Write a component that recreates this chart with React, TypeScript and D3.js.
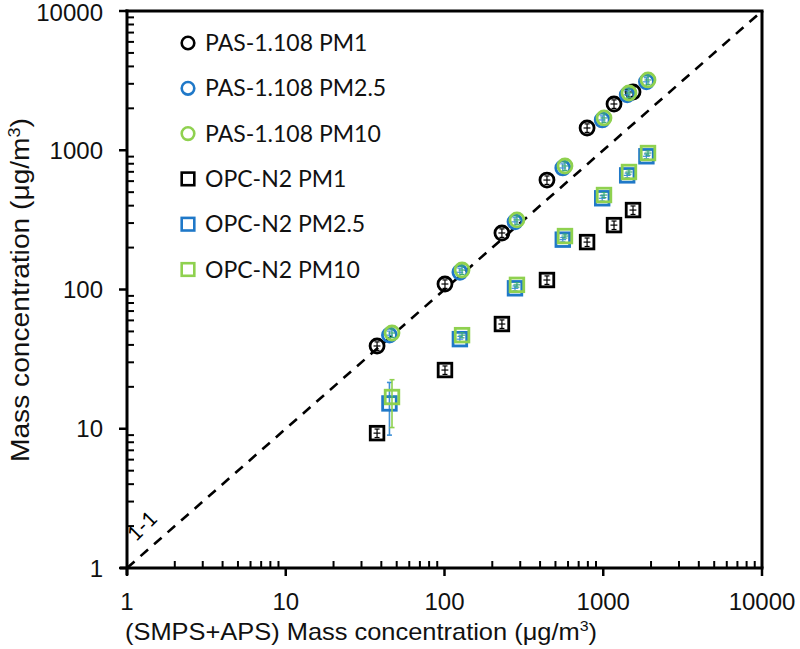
import React from "react";
import * as d3 from "d3";

// ---- Data ----
const pm1Ref = [37.6, 100.7, 230, 442, 791, 1169, 1540];
const pmRef = [46.7, 129, 286, 574, 1011, 1452, 1914];
const pmRefBlue = [45, 125, 278, 556, 985, 1415, 1870];

const pasPM1 = [39.3, 109.5, 254.6, 611, 1445, 2149, 2620];
const pasPM25 = [47, 133, 306, 746, 1650, 2500, 3100];
const pasPM10 = [48.7, 138, 316, 771, 1706, 2577, 3197];

const opcPM1 = [9.3, 26.4, 56.5, 117, 219, 290, 372];
const opcPM25 = [15.2, 44, 102, 228, 452, 660, 905];
const opcPM10 = [16.9, 47, 108, 242, 477, 698, 955];

// absolute y error bars for the OPC PM2.5 / PM10 series
const opcPM25ErrLow = [6.2, 2, 4, 8, 20, 25, 35];
const opcPM25ErrHigh = [6.3, 2, 4, 8, 20, 25, 35];
const opcPM10ErrLow = [6.7, 2, 4, 8, 20, 25, 35];
const opcPM10ErrHigh = [5.6, 2, 4, 8, 20, 25, 35];

const legendLabels = [
  "PAS-1.108 PM1",
  "PAS-1.108 PM2.5",
  "PAS-1.108 PM10",
  "OPC-N2 PM1",
  "OPC-N2 PM2.5",
  "OPC-N2 PM10",
];
const majorTicks = [1, 10, 100, 1000, 10000];
const tickLabels = ["1", "10", "100", "1000", "10000"];

const BLACK = "#000000";
const BLUE = "#1f78c8";
const GREEN = "#8fd14f";

type Series = {
  xs: number[];
  ys: number[];
  color: string;
  shape: "circle" | "square";
  errLow?: number[];
  errHigh?: number[];
};

export default function App() {
  const W = 800;
  const H = 649;
  const x = d3.scaleLog().domain([1, 10000]).range([127, 762]);
  const y = d3.scaleLog().domain([1, 10000]).range([568, 11]);

  const minorTicks: number[] = [];
  for (let e = 0; e < 4; e++) {
    for (let m = 2; m <= 9; m++) minorTicks.push(m * Math.pow(10, e));
  }

  const series: Series[] = [
    { xs: pm1Ref, ys: opcPM1, color: BLACK, shape: "square" },
    { xs: pmRefBlue, ys: opcPM25, color: BLUE, shape: "square", errLow: opcPM25ErrLow, errHigh: opcPM25ErrHigh },
    { xs: pmRef, ys: opcPM10, color: GREEN, shape: "square", errLow: opcPM10ErrLow, errHigh: opcPM10ErrHigh },
    { xs: pm1Ref, ys: pasPM1, color: BLACK, shape: "circle" },
    { xs: pmRefBlue, ys: pasPM25, color: BLUE, shape: "circle" },
    { xs: pmRef, ys: pasPM10, color: GREEN, shape: "circle" },
  ];

  const legendColors = [BLACK, BLUE, GREEN, BLACK, BLUE, GREEN];
  const legendShapes = ["circle", "circle", "circle", "square", "square", "square"];

  const marker = (shape: string, cx: number, cy: number, color: string, key: string, r: number, sw: number) =>
    shape === "circle" ? (
      <circle key={key} cx={cx} cy={cy} r={r} fill="none" stroke={color} strokeWidth={sw} />
    ) : (
      <rect key={key} x={cx - r} y={cy - r} width={2 * r} height={2 * r} fill="none" stroke={color} strokeWidth={sw} />
    );

  const tickFont = "'Liberation Sans', Arial, sans-serif";
  const legFont = "Lato, 'Noto Sans', sans-serif";

  return (
    <svg width={W} height={H} style={{ position: "absolute", left: 0, top: 0, background: "#fff" }}>
      <rect x={0} y={0} width={W} height={H} fill="#fff" />
      {/* 1-1 line */}
      <line x1={x(1)} y1={y(1)} x2={x(10000)} y2={y(10000)} stroke="#000" strokeWidth={2.6} strokeDasharray="10,8" />
      <text
        x={0}
        y={0}
        dy="0.35em"
        transform={`translate(142,526) rotate(-45)`}
        fontFamily={legFont}
        fontSize={21}
        textAnchor="middle"
        fill="#000"
      >
        1-1
      </text>

      {/* data */}
      {series.map((s, si) => (
        <g key={si}>
          {s.xs.map((xv, i) => {
            const cx = x(xv);
            const cy = y(s.ys[i]);
            const lo = s.errLow ? s.ys[i] - s.errLow[i] : s.ys[i] * 0.93;
            const hi = s.errHigh ? s.ys[i] + s.errHigh[i] : s.ys[i] * 1.07;
            const xlo = x(xv * 0.95);
            const xhi = x(xv * 1.05);
            const ec = s.color === GREEN ? "#3aa87a" : s.color === BLUE ? "#3d8fd6" : "#000";
            const big = !!s.errLow && i === 0;
            const vc = big ? (s.color === GREEN ? "#8fd14f" : "#3d8fd6") : ec;
            const ew = big ? 1.6 : 1.2;
            const r = s.shape === "circle" ? 7 : 6.8;
            return (
              <g key={i}>
                <line x1={cx} x2={cx} y1={y(lo)} y2={y(hi)} stroke={vc} strokeWidth={ew} />
                <line x1={cx - 2.5} x2={cx + 2.5} y1={y(lo)} y2={y(lo)} stroke={vc} strokeWidth={ew} />
                <line x1={cx - 2.5} x2={cx + 2.5} y1={y(hi)} y2={y(hi)} stroke={vc} strokeWidth={ew} />
                <line x1={xlo} x2={xhi} y1={cy} y2={cy} stroke={ec} strokeWidth={1.2} />
                {marker(s.shape, cx, cy, s.color, "m" + i, r, 2.8)}
              </g>
            );
          })}
        </g>
      ))}

      {/* frame */}
      <line x1={x(1) - 1.5} x2={x(10000) + 1.5} y1={y(10000)} y2={y(10000)} stroke="#000" strokeWidth={3} />
      <line x1={x(10000)} x2={x(10000)} y1={y(10000)} y2={y(1)} stroke="#000" strokeWidth={3} />

      {/* axes */}
      <line x1={x(1) - 7} x2={x(10000) + 1.5} y1={y(1)} y2={y(1)} stroke="#000" strokeWidth={3} />
      <line x1={x(1)} x2={x(1)} y1={y(10000) - 1.5} y2={y(1) + 7} stroke="#000" strokeWidth={3} />
      {minorTicks.map((t) => (
        <g key={"mn" + t}>
          <line x1={x(t)} x2={x(t)} y1={y(1)} y2={y(1) - 7} stroke="#000" strokeWidth={2} />
          <line x1={x(1)} x2={x(1) + 7} y1={y(t)} y2={y(t)} stroke="#000" strokeWidth={2} />
        </g>
      ))}
      {majorTicks.map((t, i) => (
        <g key={"mj" + t}>
          <line x1={x(t)} x2={x(t)} y1={y(1)} y2={y(1) + 8} stroke="#000" strokeWidth={2.5} />
          <line x1={x(1) - 8} x2={x(1)} y1={y(t)} y2={y(t)} stroke="#000" strokeWidth={2.5} />
          <text x={x(t)} y={610} textAnchor="middle" fontFamily={tickFont} fontSize={24} fill="#111">
            {tickLabels[i]}
          </text>
          <text x={103} y={Math.max(y(t), 12)} dy="0.36em" textAnchor="end" fontFamily={tickFont} fontSize={24} fill="#111">
            {tickLabels[i]}
          </text>
        </g>
      ))}

      {/* axis titles */}
      <text x={125} y={640} fontFamily={tickFont} fontSize={24} fill="#111" textLength={472} lengthAdjust="spacingAndGlyphs">
        (SMPS+APS) Mass concentration (μg/m
        <tspan dy={-9} fontSize={15}>3</tspan>
        <tspan dy={9}>)</tspan>
      </text>
      <text
        transform={`translate(29,${290}) rotate(-90)`}
        x={-172}
        fontFamily={tickFont}
        fontSize={25}
        fill="#111"
        textLength={344}
        lengthAdjust="spacingAndGlyphs"
      >
        Mass concentration (μg/m
        <tspan dy={-9} fontSize={16}>3</tspan>
        <tspan dy={9}>)</tspan>
      </text>

      {/* legend */}
      {legendLabels.map((lab, i) => {
        const ly = 43 + i * 45.3;
        return (
          <g key={lab}>
            {marker(legendShapes[i], 188, ly, legendColors[i], "l" + i, 6.3, 2.6)}
            <text x={205} y={ly} dy="0.35em" fontFamily={legFont} fontSize={23} fill="#111">
              {lab}
            </text>
          </g>
        );
      })}
    </svg>
  );
}
